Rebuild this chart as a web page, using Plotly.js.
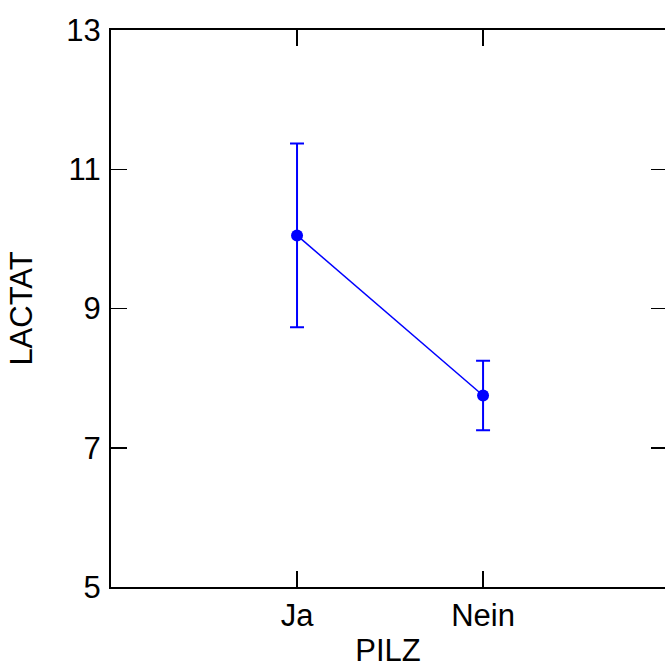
<!DOCTYPE html>
<html>
<head>
<meta charset="utf-8">
<script src="https://cdn.plot.ly/plotly-3.0.1.min.js"></script>
<style>
  html, body { margin: 0; padding: 0; background: #fff; overflow: hidden; }
  #chart { width: 665px; height: 668px; }
</style>
</head>
<body>
<div id="chart"></div>
<script>
// Group means of LACTAT by PILZ with error bars
const categories = ['Ja', 'Nein'];
const means = [10.05, 7.75];
const errors = [1.32, 0.5];
const yTicks = [5, 7, 9, 11, 13];

const blue = '#0000ff';
const font = 'Liberation Sans, Arial, sans-serif';
const fs = 31;

const trace = {
  x: [0, 1],
  y: means,
  type: 'scatter',
  mode: 'lines+markers',
  line: { color: blue, width: 1.5 },
  marker: { color: blue, size: 12 },
  error_y: { type: 'data', array: errors, visible: true, color: blue, thickness: 2, width: 7 },
  hoverinfo: 'skip',
  showlegend: false
};

// invisible trace so the right-hand axis draws its tick marks
const rightAxisTrace = {
  x: [0], y: [means[0]], yaxis: 'y2', type: 'scatter', mode: 'markers',
  marker: { opacity: 0 }, hoverinfo: 'skip', showlegend: false
};

const layout = {
  width: 665,
  height: 668,
  margin: { l: 111, r: 0, t: 30, b: 81 },
  paper_bgcolor: '#fff',
  plot_bgcolor: '#fff',
  font: { family: font, color: '#000', size: fs },
  xaxis: {
    range: [-1, 1.978],
    tickvals: [0, 1],
    ticktext: categories,
    ticks: 'inside',
    ticklen: 16,
    tickwidth: 1.5,
    tickcolor: '#000',
    showline: true,
    linecolor: '#000',
    linewidth: 2,
    mirror: 'ticks',
    showgrid: false,
    zeroline: false,
    tickfont: { size: fs },
    title: { text: 'PILZ', font: { size: fs }, standoff: 11 }
  },
  yaxis: {
    range: [5, 13],
    tickvals: yTicks,
    ticktext: yTicks.map(String),
    ticks: 'inside',
    ticklen: 16,
    tickwidth: 1.5,
    tickcolor: '#000',
    showline: true,
    linecolor: '#000',
    linewidth: 2,
    showgrid: false,
    zeroline: false,
    tickfont: { size: fs },
    ticklabelstandoff: 2,
    title: { text: 'LACTAT', font: { size: fs }, standoff: 24 }
  },
  yaxis2: {
    overlaying: 'y',
    side: 'right',
    range: [5, 13],
    tickvals: yTicks,
    showticklabels: false,
    ticks: 'inside',
    ticklen: 14,
    tickwidth: 1.5,
    tickcolor: '#000',
    showline: false,
    showgrid: false,
    zeroline: false
  }
};

Plotly.newPlot('chart', [trace, rightAxisTrace], layout, { displayModeBar: false, staticPlot: true });
</script>
</body>
</html>
